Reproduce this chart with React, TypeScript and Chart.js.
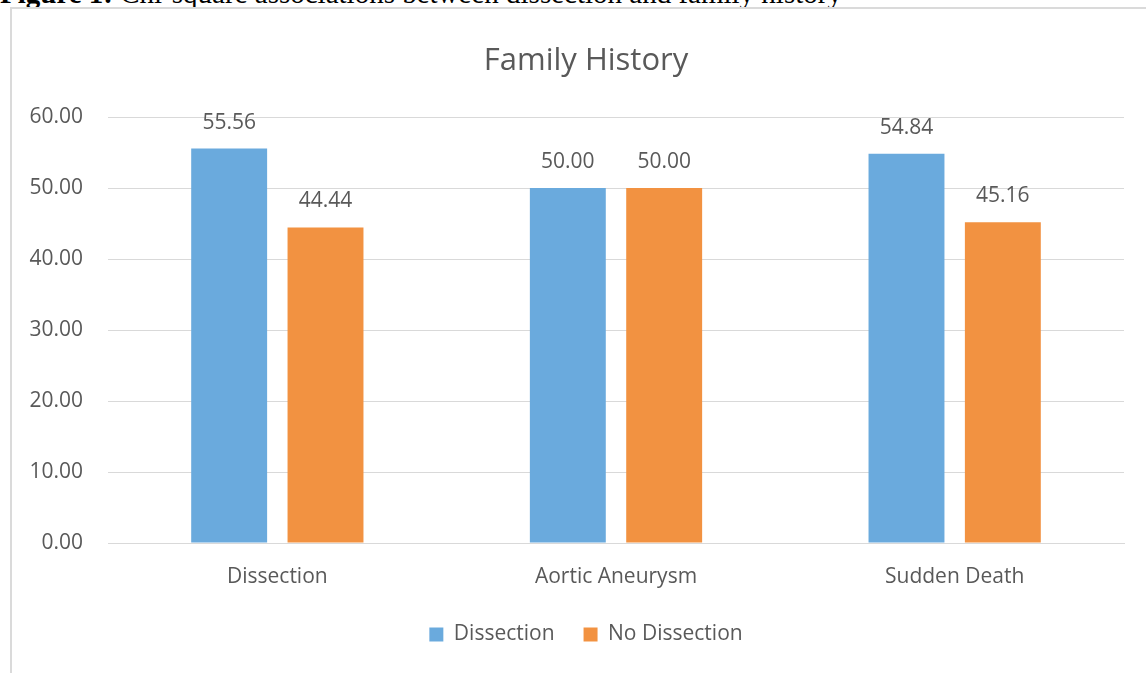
import React, { useEffect, useRef } from "react";
import { Chart, registerables } from "chart.js";

Chart.register(...registerables);

const categories = ["Dissection", "Aortic Aneurysm", "Sudden Death"];
const dissectionValues = [55.56, 50.0, 54.84];
const noDissectionValues = [44.44, 50.0, 45.16];
const seriesNames = ["Dissection", "No Dissection"];
const chartTitle = "Family History";
const captionBold = "Figure 1:";
const captionText = " Chi-square associations between dissection and family history";

const FONT = "'Open Sans', sans-serif";
const TEXT = "#595959";

const dataLabels = {
  id: "dataLabels",
  afterDatasetsDraw(chart: any) {
    const ctx = chart.ctx;
    ctx.save();
    ctx.font = `21px ${FONT}`;
    ctx.fillStyle = TEXT;
    ctx.textAlign = "center";
    ctx.textBaseline = "middle";
    chart.data.datasets.forEach((ds: any, i: number) => {
      const meta = chart.getDatasetMeta(i);
      meta.data.forEach((el: any, j: number) => {
        ctx.fillText(Number(ds.data[j]).toFixed(2), el.x, el.y - 26);
      });
    });
    ctx.restore();
  },
};

export default function App() {
  const ref = useRef<HTMLCanvasElement>(null);
  useEffect(() => {
    if (!ref.current) return;
    const chart = new Chart(ref.current, {
      type: "bar",
      data: {
        labels: categories,
        datasets: [
          {
            label: seriesNames[0],
            data: dissectionValues,
            backgroundColor: "#6AAADD",
            categoryPercentage: 0.569,
            barPercentage: 0.788,
          },
          {
            label: seriesNames[1],
            data: noDissectionValues,
            backgroundColor: "#F29241",
            categoryPercentage: 0.569,
            barPercentage: 0.788,
          },
        ],
      },
      options: {
        animation: false,
        responsive: false,
        maintainAspectRatio: false,
        layout: { padding: { left: 0, right: 0, top: 0, bottom: 18 } },
        plugins: {
          title: {
            display: true,
            text: chartTitle,
            color: TEXT,
            font: { family: FONT, size: 31, weight: "normal" },
            padding: { top: 43, bottom: 36.8 },
          },
          legend: {
            display: true,
            position: "bottom",
            labels: {
              color: TEXT,
              font: { family: FONT, size: 21 },
              boxWidth: 14,
              boxHeight: 14,
              padding: 29,
            },
          },
          tooltip: { enabled: false },
        },
        scales: {
          x: {
            grid: { display: false, drawTicks: false },
            border: { display: true, color: "#D9D9D9", width: 1 },
            ticks: { color: TEXT, font: { family: FONT, size: 21 }, padding: 21 },
            afterFit(scale: any) {
              scale.height = 52;
            },
          },
          y: {
            min: 0,
            max: 60,
            grid: { color: "#D9D9D9", lineWidth: 1, drawTicks: false },
            border: { display: false },
            ticks: {
              stepSize: 10,
              color: TEXT,
              font: { family: FONT, size: 21 },
              padding: 25,
              callback: (v: any) => Number(v).toFixed(2),
            },
            afterFit(scale: any) {
              scale.width = 82;
            },
          },
          yRight: {
            position: "right",
            display: true,
            min: 0,
            max: 60,
            grid: { display: false, drawTicks: false },
            border: { display: false },
            ticks: { display: false },
            afterFit(scale: any) {
              scale.width = 22;
            },
          },
        },
      },
      plugins: [dataLabels],
    });
    return () => chart.destroy();
  }, []);

  return (
    <div
      style={{
        position: "fixed",
        left: 0,
        top: 0,
        width: 1146,
        height: 673,
        overflow: "hidden",
        background: "#fff",
      }}
    >
      <div
        style={{
          position: "absolute",
          left: 0,
          top: -21,
          fontFamily: "'Liberation Serif', serif",
          fontSize: 29,
          lineHeight: "29px",
          whiteSpace: "nowrap",
          color: "#000",
        }}
      >
        <b>{captionBold}</b>
        {captionText}
      </div>
      <div
        style={{
          position: "absolute",
          left: 10,
          top: 7,
          width: 1300,
          height: 900,
          border: "2px solid #DADADA",
          boxSizing: "border-box",
        }}
      />
      <canvas
        ref={ref}
        width={1120}
        height={673}
        style={{ position: "absolute", left: 26, top: 0 }}
      />
    </div>
  );
}
